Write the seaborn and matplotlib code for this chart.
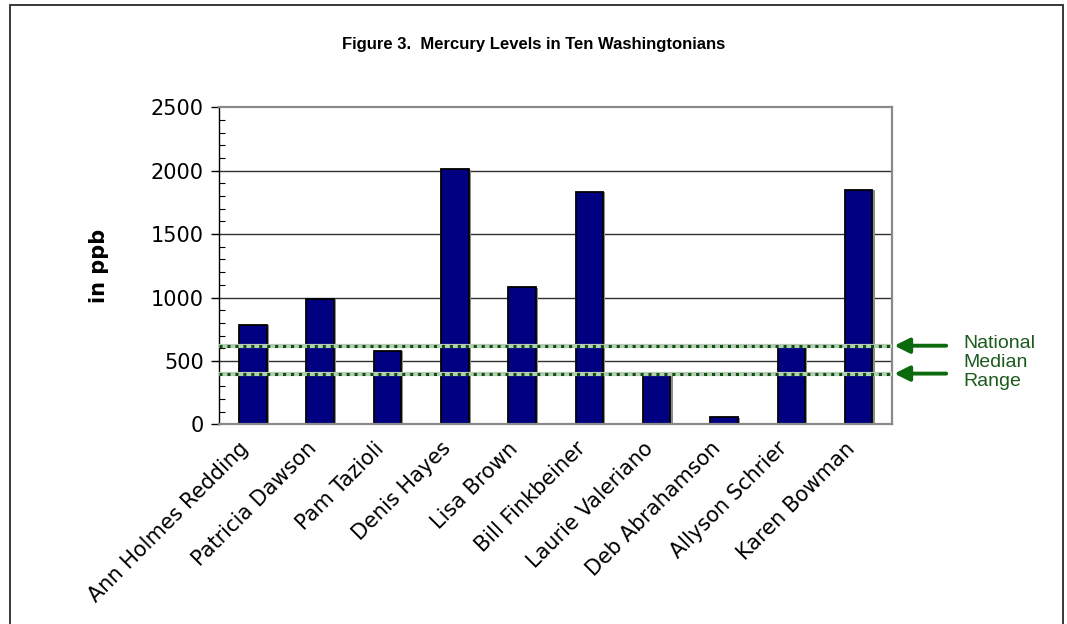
import matplotlib
matplotlib.use("Agg")
import matplotlib.pyplot as plt
import matplotlib.patheffects as pe
import matplotlib.transforms as mtransforms
from matplotlib.patches import Rectangle
import seaborn as sns
import pandas as pd

# data
names = ["Ann Holmes Redding", "Patricia Dawson", "Pam Tazioli", "Denis Hayes",
         "Lisa Brown", "Bill Finkbeiner", "Laurie Valeriano", "Deb Abrahamson",
         "Allyson Schrier", "Karen Bowman"]
mercury_ppb = [785, 990, 580, 2010, 1080, 1835, 395, 55, 620, 1850]
median_range = [620, 400]
y_ticks = [0, 500, 1000, 1500, 2000, 2500]

df = pd.DataFrame({"name": names, "ppb": mercury_ppb})

sns.set_style("white")
plt.rcParams["font.family"] = ["DejaVu Sans"]
plt.rcParams["text.color"] = "black"
plt.rcParams["xtick.color"] = "black"
plt.rcParams["ytick.color"] = "black"
plt.rcParams["axes.labelcolor"] = "black"

fig = plt.figure(figsize=(10.67, 6.24), dpi=100)
ax = fig.add_axes([0.2053, 0.320, 0.631, 0.508])

sns.barplot(data=df, x="name", y="ppb", color="#000080", width=0.41,
            edgecolor="black", linewidth=1.3, saturation=1, ax=ax)
for p in ax.patches:
    p.set_path_effects([pe.SimplePatchShadow(offset=(1.5, -0.5), shadow_rgbFace="#8c8c8c", alpha=1),
                        pe.Normal()])

ax.set_ylim(0, 2500)
ax.set_xlim(-0.5, len(names) - 0.5)
ax.set_yticks(y_ticks)
ax.set_yticks(range(0, 2501, 100), minor=True)
for v in y_ticks[1:-1]:
    ax.axhline(v, color="#303030", lw=1.0, zorder=0.5)

# national median range
for v in median_range:
    ax.axhline(v, color="#b5ccb5", lw=3, zorder=3)
    ax.axhline(v, color="#0d4f0d", lw=2.2, ls=(0, (1, 1.6)), zorder=4)
    ax.annotate("", xy=(1.003, v), xycoords=("axes fraction", "data"),
                xytext=(1.08, v), textcoords=("axes fraction", "data"),
                arrowprops=dict(arrowstyle="-|>,head_length=0.9,head_width=0.45",
                                color="#0b6a0b", lw=2.8, shrinkA=0, shrinkB=0),
                annotation_clip=False)
ax.text(1.105, 0.5 * (median_range[0] + median_range[1]) - 20, "National\nMedian\nRange",
        transform=ax.get_yaxis_transform(), color="#1d5a1d", fontsize=14,
        family="Liberation Sans", linespacing=1.15, va="center", ha="left")

for side in ["top", "right", "bottom"]:
    ax.spines[side].set_color("#8a8a8a")
    ax.spines[side].set_linewidth(1.6)
ax.spines["left"].set_color("black")
ax.spines["left"].set_linewidth(1.0)

ax.tick_params(axis="y", which="major", direction="out", length=6, width=1,
               color="black", labelsize=15, pad=5, left=True)
ax.tick_params(axis="y", which="minor", direction="in", length=4, width=0.8,
               color="black", left=True)
ax.tick_params(axis="x", length=0, labelsize=15, pad=10)
shift = mtransforms.ScaledTranslation(-14 / 100, 0, fig.dpi_scale_trans)
for lab in ax.get_xticklabels():
    lab.set_rotation(45)
    lab.set_ha("right")
    lab.set_rotation_mode("anchor")
    lab.set_transform(lab.get_transform() + shift)

ax.set_xlabel("")
ax.set_ylabel("in ppb", fontsize=15, fontweight="bold", labelpad=30)

fig.text(0.5, 0.929, "Figure 3.  Mercury Levels in Ten Washingtonians",
         ha="center", va="center", fontsize=12, fontweight="bold",
         family="Liberation Sans")

fig.patches.append(Rectangle((10 / 1067, -0.05), 1053 / 1067, 1.05 - 5 / 624,
                             transform=fig.transFigure, fill=False,
                             edgecolor="#2a2a2a", lw=1.3))

fig.savefig("out.png", dpi=100)
plt.close(fig)
